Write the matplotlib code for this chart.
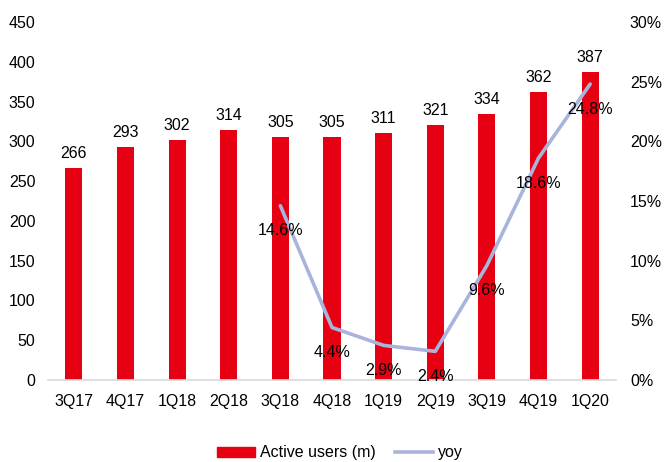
import matplotlib
matplotlib.use("Agg")
import matplotlib.pyplot as plt
from matplotlib.patches import Patch
from matplotlib.lines import Line2D

plt.rcParams['font.family'] = ['Liberation Sans', 'DejaVu Sans']

quarters = ["3Q17", "4Q17", "1Q18", "2Q18", "3Q18", "4Q18", "1Q19", "2Q19", "3Q19", "4Q19", "1Q20"]
active_users = [266, 293, 302, 314, 305, 305, 311, 321, 334, 362, 387]
yoy_quarters = ["3Q18", "4Q18", "1Q19", "2Q19", "3Q19", "4Q19", "1Q20"]
yoy = [14.6, 4.4, 2.9, 2.4, 9.6, 18.6, 24.8]

RED = "#E60012"
BLUE = "#A9B4DC"
FS = 11.5

fig = plt.figure(figsize=(6.64, 4.62), dpi=100)
ax = fig.add_axes([48/664, 82/462, 568/664, 358/462])
x = list(range(len(quarters)))
ax.bar(x, active_users, width=0.33, color=RED, zorder=2)
for xi, v in zip(x, active_users):
    ax.annotate(str(v), (xi, v), xytext=(0, 5), textcoords="offset points",
                ha="center", va="bottom", fontsize=FS)
ax.set_xlim(-0.5, len(quarters) - 0.5)
ax.set_ylim(0, 450)
ax.set_yticks(range(0, 451, 50))
ax.set_xticks(x)
ax.set_xticklabels(quarters)
for s in ["top", "left", "right"]:
    ax.spines[s].set_visible(False)
ax.spines["bottom"].set_color("#D9D9D9")
ax.spines["bottom"].set_linewidth(1.2)
ax.tick_params(axis="both", length=0, labelsize=FS)
ax.tick_params(axis="x", pad=10)
ax.tick_params(axis="y", pad=9)

ax2 = ax.twinx()
xi2 = [quarters.index(q) for q in yoy_quarters]
ax2.plot(xi2, yoy, color=BLUE, lw=2.6, zorder=3, solid_capstyle="round")
for xx, v in zip(xi2, yoy):
    ax2.annotate(f"{v:.1f}%", (xx, v), xytext=(0, -18), textcoords="offset points",
                 ha="center", va="center", fontsize=FS)
ax2.set_ylim(0, 30)
ax2.set_yticks(range(0, 31, 5))
ax2.set_yticklabels([f"{t}%" for t in range(0, 31, 5)])
for s in ["top", "left", "right", "bottom"]:
    ax2.spines[s].set_visible(False)
ax2.tick_params(axis="y", length=0, labelsize=FS, pad=10)

handles = [Patch(facecolor=RED, edgecolor=RED), Line2D([0], [0], color=BLUE, lw=2.6)]
fig.legend(handles, ["Active users (m)", "yoy"], loc="center", bbox_to_anchor=(0.512, 9/462),
           ncol=2, frameon=False, fontsize=FS, handlelength=2.4, columnspacing=1.2,
           handletextpad=0.3, handleheight=0.6)

fig.savefig("out.png", dpi=100)
